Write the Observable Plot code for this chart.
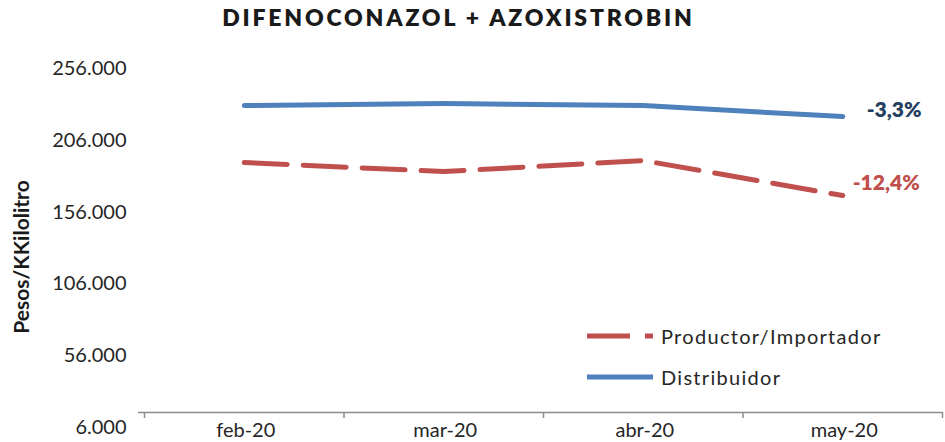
<!DOCTYPE html>
<html>
<head>
<meta charset="utf-8">
<script src="https://cdn.jsdelivr.net/npm/d3@7"></script>
<script src="https://cdn.jsdelivr.net/npm/@observablehq/plot@0.6"></script>
<style>
  html, body { margin: 0; padding: 0; background: #fff; }
  #wrap { position: relative; width: 945px; height: 442px; font-family: "Lato", sans-serif; }
  #title { position: absolute; left: 0; width: 917px; top: 3px; text-align: center;
           font-weight: 800; font-size: 23px; color: #1a1a1a; letter-spacing: 2.8px; }
  .leg { position: absolute; left: 587px; display: flex; align-items: center;
         font-size: 20px; color: #262626; letter-spacing: 1.3px; }
  .leg svg { margin-right: 8px; }
</style>
</head>
<body>
<div id="wrap">
  <div id="title">DIFENOCONAZOL + AZOXISTROBIN</div>
</div>
<script>
const months = ["feb-20", "mar-20", "abr-20", "may-20"];
const distribuidor = [230200, 231600, 230200, 222500];
const productor = [190500, 184200, 191900, 167500];
const yTicks = [6000, 56000, 106000, 156000, 206000, 256000];
const changeLabels = { Distribuidor: "-3,3%", "Productor/Importador": "-12,4%" };

const blue = "#4f81bd", red = "#c0504d";

const rows = [
  ...months.map((m, i) => ({ serie: "Distribuidor", i, mes: m, valor: distribuidor[i] })),
  ...months.map((m, i) => ({ serie: "Productor/Importador", i, mes: m, valor: productor[i] }))
];
const last = rows.filter(d => d.i === months.length - 1);

const fmt = d3.formatLocale({ decimal: ",", thousands: ".", grouping: [3], currency: ["$", ""] }).format(",.0f");

const chart = Plot.plot({
  width: 945,
  height: 442,
  marginTop: 68,
  marginBottom: 15,
  marginLeft: 144,
  marginRight: 3,
  style: { fontFamily: "Lato, sans-serif", background: "#fff", overflow: "visible" },
  x: { domain: [0, months.length] },
  y: { domain: [yTicks[0], yTicks[yTicks.length - 1]] },
  marks: [
    Plot.axisY({ ticks: yTicks, tickFormat: fmt, tickSize: 0, tickPadding: 18, fontSize: 20, fill: "#262626", label: null, style: "letter-spacing:1.5px" }),
    Plot.ruleY([yTicks[0]], { dy: -15, stroke: "#8c8c8c", strokeWidth: 1.5, insetLeft: -6 }),
    Plot.axisX({ ticks: d3.range(months.length + 1), tickFormat: () => "", tickSize: 6, dy: -15, stroke: "#8c8c8c", strokeWidth: 1.5, label: null }),
    Plot.axisX({ ticks: months.map((m, i) => i + 0.5), tickFormat: v => months[Math.floor(v)], tickSize: 0, tickPadding: 0, dy: -5, dx: 1.5, fontSize: 20, fill: "#262626", label: null, style: "letter-spacing:3px" }),
    Plot.text(["Pesos/KKilolitro"], { frameAnchor: "left", textAnchor: "middle", rotate: -90, dx: -122, dy: 9, fontSize: 21, fontWeight: 700, fill: "#1a1a1a", style: "letter-spacing:2.3px" }),
    Plot.line(rows.filter(d => d.serie === "Productor/Importador"), { x: d => d.i + 0.5, y: "valor", stroke: red, strokeWidth: 5, strokeDasharray: "43,16", strokeLinejoin: "round" }),
    Plot.line(rows.filter(d => d.serie === "Distribuidor"), { x: d => d.i + 0.5, y: "valor", stroke: blue, strokeWidth: 5, strokeLinejoin: "round" }),
    Plot.text(last.filter(d => d.serie === "Distribuidor"), { x: d => d.i + 0.5, y: "valor", text: d => changeLabels[d.serie], dx: 24, dy: -6, textAnchor: "start", fontSize: 21, fontWeight: 800, fill: "#243f60", style: "letter-spacing:1.2px" }),
    Plot.text(last.filter(d => d.serie === "Productor/Importador"), { x: d => d.i + 0.5, y: "valor", text: d => changeLabels[d.serie], dx: 10, dy: -12, textAnchor: "start", fontSize: 21, fontWeight: 800, fill: red, style: "letter-spacing:1px" })
  ]
});
const wrap = document.getElementById("wrap");
wrap.appendChild(chart);

const legendItems = [
  { name: "Productor/Importador", color: red, dash: "43,15", top: 324 },
  { name: "Distribuidor", color: blue, dash: null, top: 365 }
];
for (const it of legendItems) {
  const div = document.createElement("div");
  div.className = "leg";
  div.style.top = it.top + "px";
  div.innerHTML = `<svg width="66" height="8"><line x1="0" x2="66" y1="4" y2="4" stroke="${it.color}" stroke-width="5" ${it.dash ? `stroke-dasharray="${it.dash}"` : ""}/></svg><span>${it.name}</span>`;
  wrap.appendChild(div);
}
</script>
</body>
</html>
